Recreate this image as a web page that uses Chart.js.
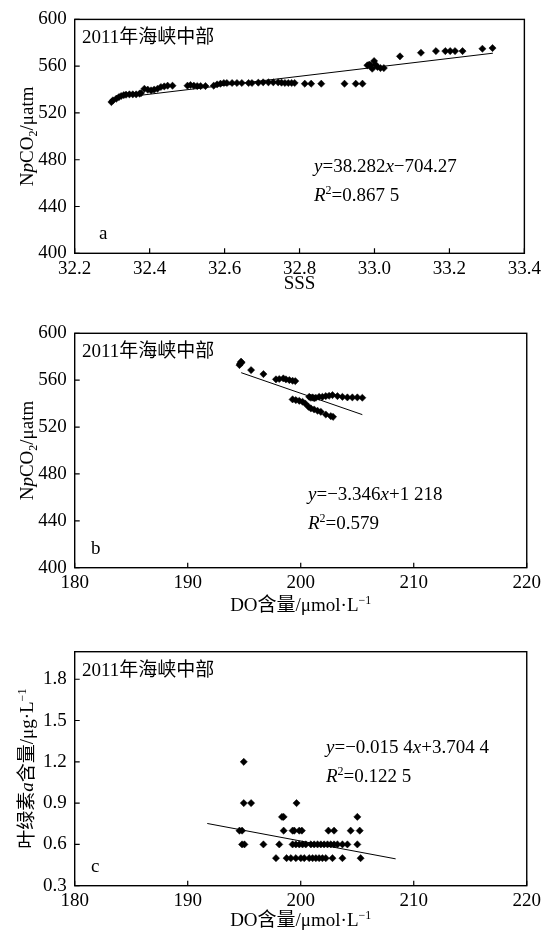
<!DOCTYPE html>
<html>
<head>
<meta charset="utf-8">
<script src="https://cdn.jsdelivr.net/npm/chart.js@4/dist/chart.umd.min.js"></script>
<style>
  body { margin: 0; background: #fff; width: 545px; height: 932px; position: relative; overflow: hidden; }
  canvas { position: absolute; left: 0; }
</style>
</head>
<body>
<canvas id="chartA" width="545" height="310" style="top:0"></canvas>
<canvas id="chartB" width="545" height="318" style="top:310px"></canvas>
<canvas id="chartC" width="545" height="304" style="top:628px"></canvas>
<script>
// panel a: SSS vs NpCO2
const sssA = [32.298, 32.302, 32.311, 32.318, 32.324, 32.331, 32.337, 32.346, 32.355, 32.364,
  32.373, 32.377, 32.386, 32.395, 32.404, 32.412, 32.421, 32.430, 32.439, 32.448,
  32.461, 32.501, 32.509, 32.518, 32.527, 32.536, 32.549, 32.571, 32.580, 32.589,
  32.598, 32.606, 32.620, 32.633, 32.646, 32.664, 32.673, 32.690, 32.703, 32.717,
  32.730, 32.743, 32.752, 32.761, 32.770, 32.779, 32.787, 32.814, 32.831, 32.858,
  32.920, 32.950, 32.968, 32.981, 32.986, 32.990, 32.994, 32.999, 33.003, 33.008,
  33.016, 33.025, 33.068, 33.124, 33.164, 33.189, 33.202, 33.215, 33.235, 33.288, 33.315];
const pco2A = [529.3, 530.8, 532.2, 533.6, 534.5, 535.3, 535.6, 535.9, 535.9, 535.9,
  536.5, 537.0, 540.7, 539.9, 539.3, 539.9, 540.7, 542.2, 542.7, 543.3,
  543.3, 543.3, 543.9, 543.3, 543.0, 543.0, 543.0, 543.3, 544.4, 545.0,
  545.6, 545.6, 545.6, 545.6, 545.6, 545.6, 545.6, 545.9, 546.2, 546.2,
  546.2, 546.2, 545.9, 545.6, 545.6, 545.6, 545.6, 545.0, 545.0, 545.0,
  545.0, 545.0, 545.0, 560.7, 561.3, 560.7, 557.8, 564.4, 561.3, 559.3,
  558.4, 558.4, 568.4, 571.5, 572.9, 572.9, 572.9, 572.9, 572.9, 574.9, 575.5];
const fitAX = [32.373, 33.316];
const fitAY = [535.0, 571.1];

// panel b: DO vs NpCO2
const doB = [194.58, 194.65, 194.72, 194.77, 195.61, 196.70, 197.81, 198.10, 198.46, 198.69,
  198.99, 199.28, 199.52, 199.28, 199.57, 199.87, 200.16, 200.40, 200.75, 200.90,
  201.05, 201.19, 201.34, 201.63, 201.92, 202.22, 202.51, 202.81, 203.25, 203.69,
  204.13, 204.57, 205.01, 205.45, 200.69, 200.90, 201.19, 201.49, 201.78, 202.22,
  202.66, 202.86];
const pco2B = [572.9, 574.3, 575.8, 575.0, 568.6, 565.2, 560.7, 561.0, 561.5, 560.7,
  560.1, 559.5, 559.2, 543.6, 543.0, 542.4, 541.6, 540.1, 545.8, 545.0,
  545.3, 544.6, 545.0, 545.8, 545.8, 546.4, 546.7, 547.3, 546.4, 545.8,
  545.3, 545.3, 545.3, 545.0, 537.3, 535.9, 535.0, 533.9, 533.0, 530.7,
  529.3, 528.7];
const fitBX = [194.73, 205.45];
const fitBY = [566.4, 530.6];

// panel c: DO vs chlorophyll a
const doC = [194.96,
  194.96, 195.61, 199.63,
  198.34, 198.49, 205.01,
  194.58, 194.81, 198.49, 199.28, 199.43, 199.87, 200.10, 202.45, 202.95, 204.42, 205.22,
  194.81, 195.02, 196.70, 198.10, 199.28, 199.57, 199.87, 200.16, 200.45, 200.90,
  201.19, 201.49, 201.78, 202.07, 202.37, 202.66, 202.95, 203.25, 203.69, 204.13, 205.01,
  197.81, 198.75, 199.13, 199.57, 200.01, 200.31, 200.75, 201.05, 201.34, 201.63,
  201.92, 202.22, 202.81, 203.69, 205.30];
const chlC = [1.2,
  0.9, 0.9, 0.9,
  0.8, 0.8, 0.8,
  0.7, 0.7, 0.7, 0.7, 0.7, 0.7, 0.7, 0.7, 0.7, 0.7, 0.7,
  0.6, 0.6, 0.6, 0.6, 0.6, 0.6, 0.6, 0.6, 0.6, 0.6,
  0.6, 0.6, 0.6, 0.6, 0.6, 0.6, 0.6, 0.6, 0.6, 0.6, 0.6,
  0.5, 0.5, 0.5, 0.5, 0.5, 0.5, 0.5, 0.5, 0.5, 0.5,
  0.5, 0.5, 0.5, 0.5, 0.5];
const fitCX = [191.73, 208.4];
const fitCY = [0.752, 0.495];

// ticks
const ticksSSS = [32.2, 32.4, 32.6, 32.8, 33.0, 33.2, 33.4];
const ticksDO = [180, 190, 200, 210, 220];
const ticksPCO2 = [400, 440, 480, 520, 560, 600];
const ticksChl = [0.3, 0.6, 0.9, 1.2, 1.5, 1.8];

const FAMILY = "'Liberation Serif', 'Noto Sans CJK SC', serif";

function pts(xs, ys) {
  return xs.map((x, i) => ({ x: x, y: ys[i] }));
}

// draws a line of text made of runs: [text, style] where style is 'i', 'sup', 'sub'
function drawRuns(ctx, runs, x, y, center) {
  const parts = runs.map(r => {
    const st = r[1] || '';
    const small = st.includes('sup') || st.includes('sub');
    const font = (st.includes('i') ? 'italic ' : '') + (small ? 12 : 19) + 'px ' + FAMILY;
    ctx.font = font;
    return { t: r[0], font: font, w: ctx.measureText(r[0]).width,
      dy: st.includes('sup') ? -7 : st.includes('sub') ? 4 : 0 };
  });
  const total = parts.reduce((s, p) => s + p.w, 0);
  let cx = center ? x - total / 2 : x;
  ctx.textAlign = 'left';
  ctx.textBaseline = 'alphabetic';
  ctx.fillStyle = '#000';
  parts.forEach(p => {
    ctx.font = p.font;
    ctx.fillText(p.t, cx, y + p.dy);
    cx += p.w;
  });
}

const framePlugin = {
  id: 'frame',
  afterDraw(chart, args, opts) {
    const ctx = chart.ctx;
    const a = chart.chartArea;
    ctx.save();
    ctx.strokeStyle = '#000';
    ctx.lineWidth = 1.4;
    ctx.strokeRect(a.left, a.top, a.right - a.left, a.bottom - a.top);
    ctx.lineWidth = 1.2;
    ctx.beginPath();
    chart.scales.x.ticks.forEach(t => {
      const px = chart.scales.x.getPixelForValue(t.value);
      ctx.moveTo(px, a.bottom);
      ctx.lineTo(px, a.bottom - 5);
    });
    chart.scales.y.ticks.forEach(t => {
      const py = chart.scales.y.getPixelForValue(t.value);
      ctx.moveTo(a.left, py);
      ctx.lineTo(a.left + 5, py);
    });
    ctx.stroke();

    const t = opts.texts;
    drawRuns(ctx, [['2011年海峡中部']], 82, a.top + 24, false);
    drawRuns(ctx, t.eq1, t.eqX, t.eqY, false);
    drawRuns(ctx, t.eq2, t.eqX, t.eqY + 29, false);
    drawRuns(ctx, [[t.letter]], t.letterX, a.bottom - 14, false);
    drawRuns(ctx, t.xTitle, (a.left + a.right) / 2, t.xTitleY, true);
    ctx.translate(33, (a.top + a.bottom) / 2);
    ctx.rotate(-Math.PI / 2);
    drawRuns(ctx, t.yTitle, 0, 0, true);
    ctx.restore();
  }
};

function makeChart(id, c) {
  const tickFont = { family: FAMILY, size: 19 };
  new Chart(document.getElementById(id), {
    type: 'scatter',
    data: {
      datasets: [
        {
          data: pts(c.xs, c.ys),
          pointStyle: 'rectRot',
          pointRadius: 3.6,
          pointBorderWidth: 0.5,
          backgroundColor: '#000',
          borderColor: '#000'
        },
        {
          type: 'line',
          data: pts(c.fitX, c.fitY),
          borderColor: '#000',
          borderWidth: 1,
          pointRadius: 0,
          fill: false
        }
      ]
    },
    options: {
      responsive: false,
      animation: false,
      layout: { autoPadding: false, padding: { left: 0, right: 16.7, top: c.top, bottom: 0 } },
      plugins: { legend: { display: false }, tooltip: { enabled: false }, frame: { texts: c.texts } },
      scales: {
        x: {
          type: 'linear', min: c.xTicks[0], max: c.xTicks[c.xTicks.length - 1],
          afterBuildTicks: s => { s.ticks = c.xTicks.map(v => ({ value: v })); },
          afterFit: s => { s.height = c.xh; },
          grid: { display: false, drawTicks: false },
          border: { display: false },
          ticks: { font: tickFont, color: '#000', padding: 4, maxRotation: 0, autoSkip: false, callback: c.xFmt }
        },
        y: {
          type: 'linear', min: c.yMin, max: c.yMax,
          afterBuildTicks: s => { s.ticks = c.yTicks.map(v => ({ value: v })); },
          afterFit: s => { s.width = 74.7; },
          grid: { display: false, drawTicks: false },
          border: { display: false },
          ticks: { font: tickFont, color: '#000', padding: 8, autoSkip: false, callback: c.yFmt }
        }
      }
    },
    plugins: [framePlugin]
  });
}

const doTitle = [['DO含量/μmol·L'], ['−1', 'sup']];
const pco2Title = [['N'], ['p', 'i'], ['CO'], ['2', 'sub'], ['/μatm']];

makeChart('chartA', {
  xs: sssA, ys: pco2A, fitX: fitAX, fitY: fitAY,
  xTicks: ticksSSS, yTicks: ticksPCO2, yMin: 400, yMax: 600,
  xFmt: v => v.toFixed(1), yFmt: v => String(v),
  top: 19, xh: 310 - 253.3,
  texts: {
    eq1: [['y', 'i'], ['=38.282'], ['x', 'i'], ['−704.27']],
    eq2: [['R', 'i'], ['2', 'sup'], ['=0.867 5']],
    eqX: 314, eqY: 172, letter: 'a', letterX: 99,
    xTitle: [['SSS']], xTitleY: 289, yTitle: pco2Title
  }
});

makeChart('chartB', {
  xs: doB, ys: pco2B, fitX: fitBX, fitY: fitBY,
  xTicks: ticksDO, yTicks: ticksPCO2, yMin: 400, yMax: 600,
  xFmt: v => String(v), yFmt: v => String(v),
  top: 23.3, xh: 318 - 257.7,
  texts: {
    eq1: [['y', 'i'], ['=−3.346'], ['x', 'i'], ['+1 218']],
    eq2: [['R', 'i'], ['2', 'sup'], ['=0.579']],
    eqX: 308, eqY: 190, letter: 'b', letterX: 91,
    xTitle: doTitle, xTitleY: 301, yTitle: pco2Title
  }
});

makeChart('chartC', {
  xs: doC, ys: chlC, fitX: fitCX, fitY: fitCY,
  xTicks: ticksDO, yTicks: ticksChl, yMin: 0.3, yMax: 2.0,
  xFmt: v => String(v), yFmt: v => v.toFixed(1),
  top: 23.7, xh: 304 - 257.7,
  texts: {
    eq1: [['y', 'i'], ['=−0.015 4'], ['x', 'i'], ['+3.704 4']],
    eq2: [['R', 'i'], ['2', 'sup'], ['=0.122 5']],
    eqX: 326, eqY: 125, letter: 'c', letterX: 91,
    xTitle: doTitle, xTitleY: 298, yTitle: [['叶绿素'], ['a', 'i'], ['含量/μg·L'], ['−1', 'sup']]
  }
});
</script>
</body>
</html>
